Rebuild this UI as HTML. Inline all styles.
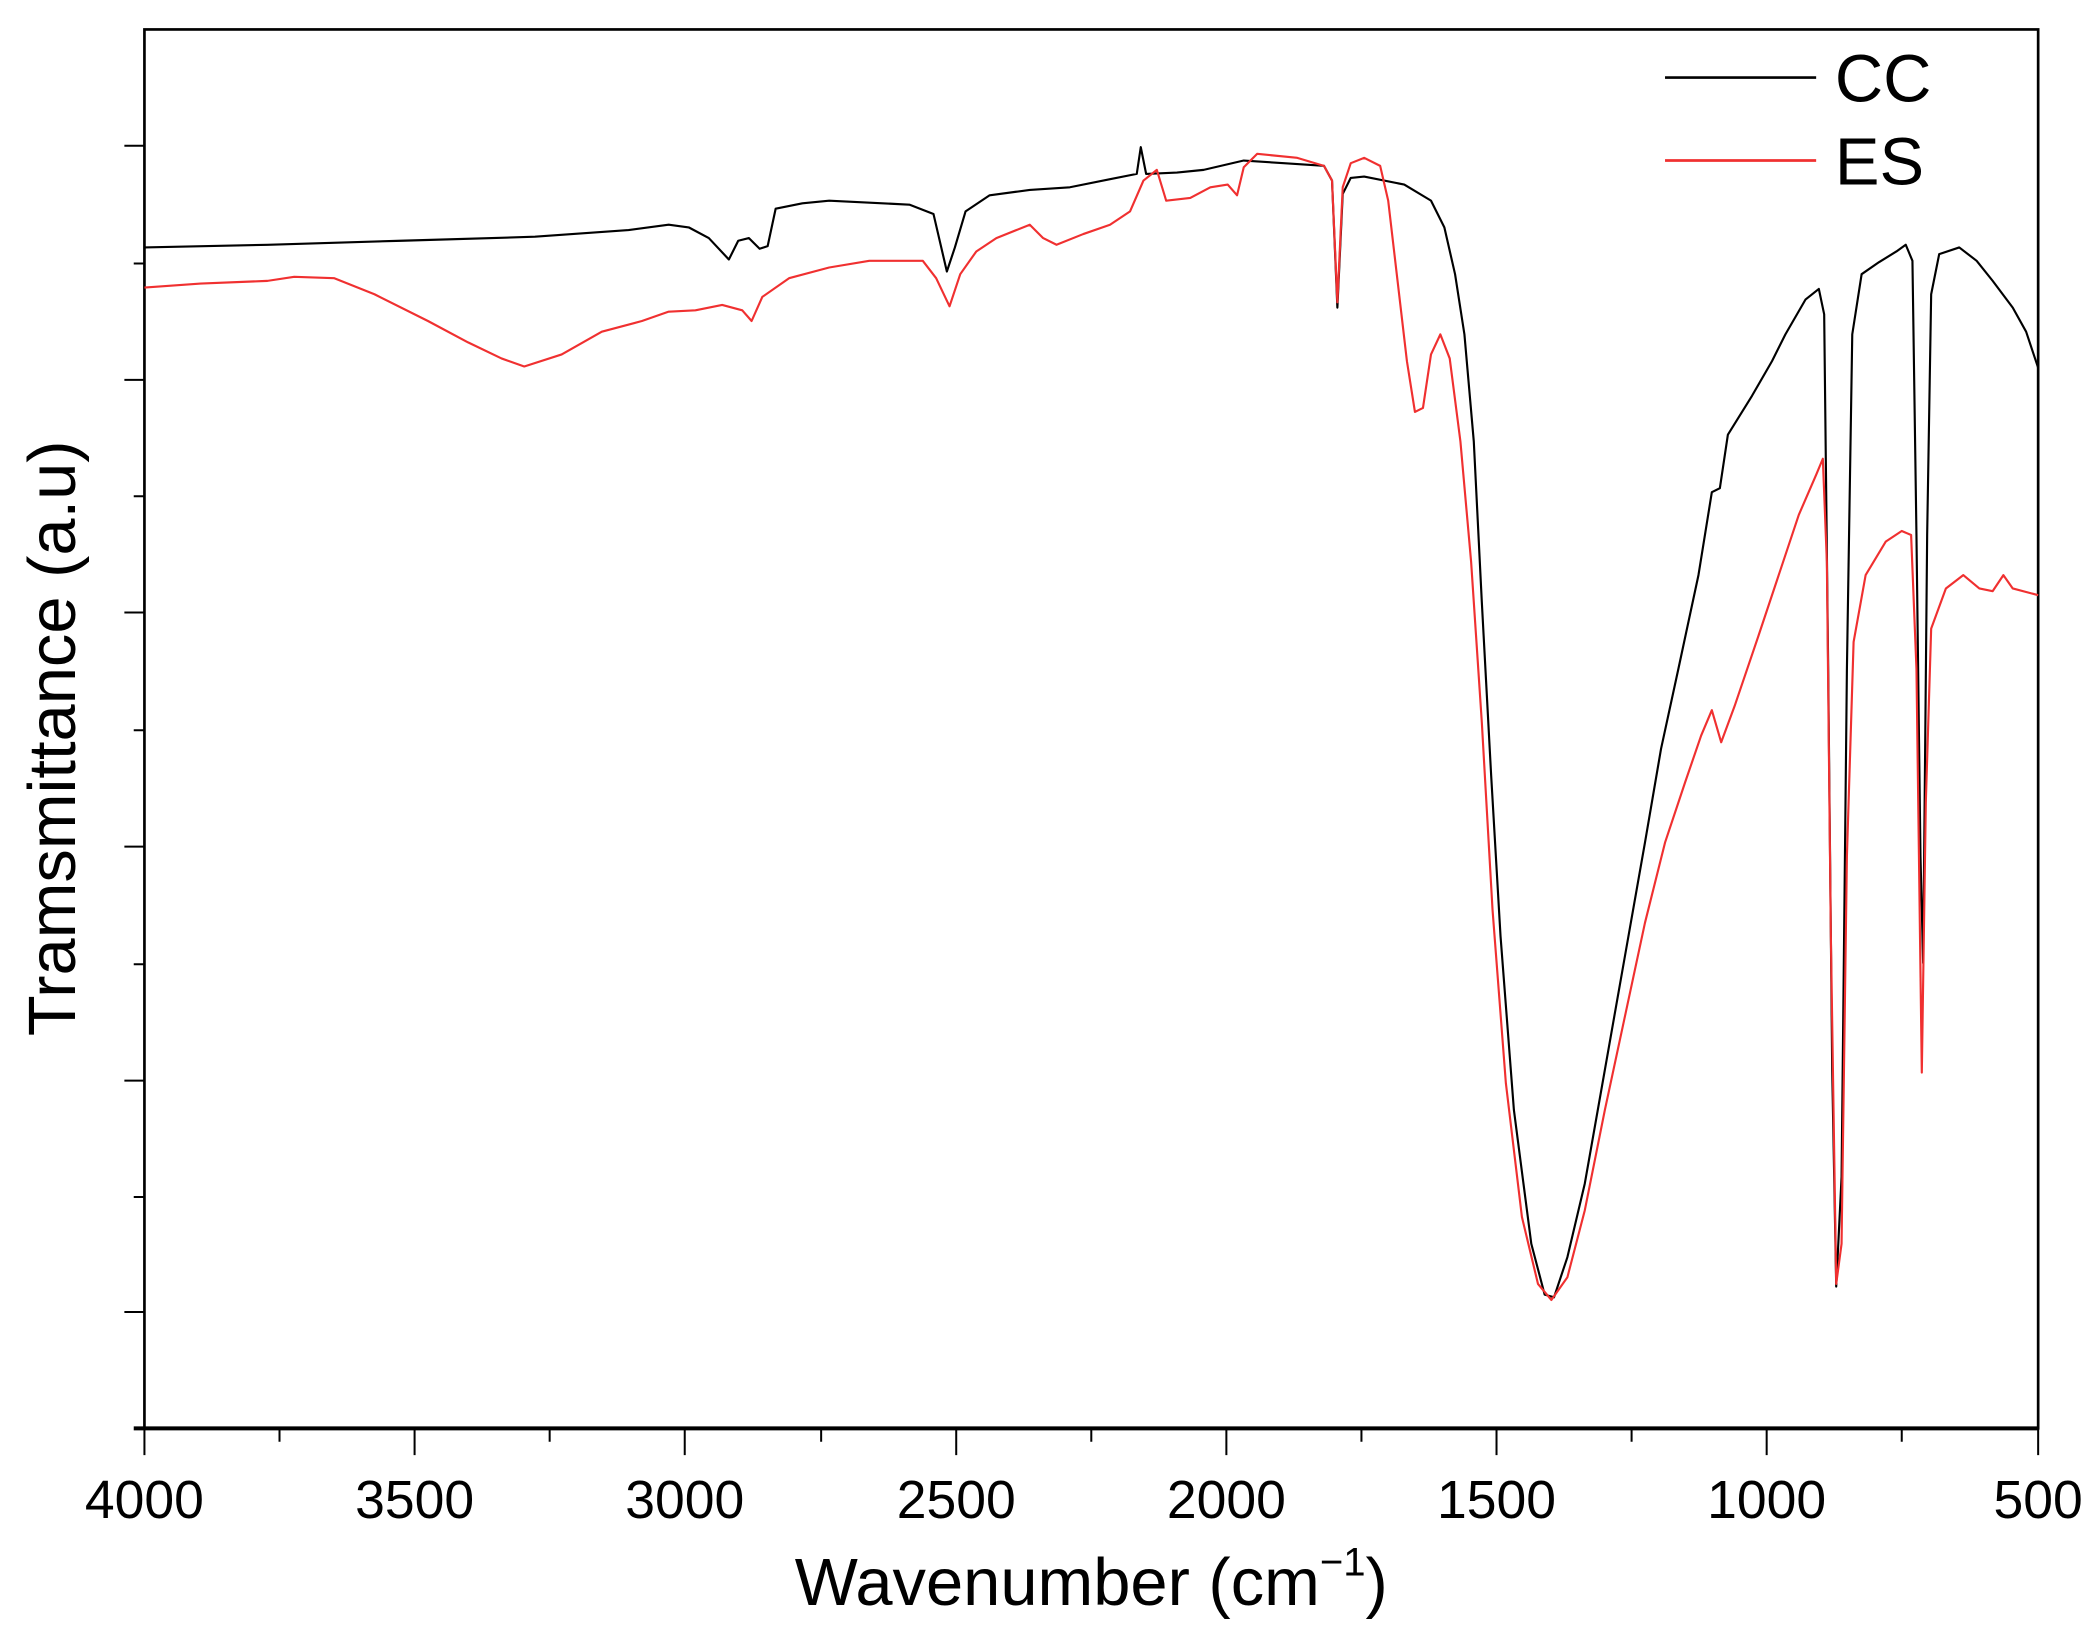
<!DOCTYPE html>
<html><head><style>html,body{margin:0;padding:0;background:#fff;}svg{display:block;}</style></head>
<body>
<svg width="2097" height="1637" viewBox="0 0 1568 1224" xmlns="http://www.w3.org/2000/svg" font-family="Liberation Sans, Arial, sans-serif">
<rect x="0" y="0" width="1568" height="1224" fill="#fff"/>
<g stroke="#000" stroke-width="1.5" fill="none">
<path d="M108,1068 v20 M209,1068 v10 M310,1068 v20 M411,1068 v10 M512,1068 v20 M614,1068 v10 M715,1068 v20 M816,1068 v10 M917,1068 v20 M1018,1068 v10 M1119,1068 v20 M1220,1068 v10 M1321,1068 v20 M1422,1068 v10 M1524,1068 v20"/>
<path d="M108,109 h-15 M108,197 h-8 M108,284 h-15 M108,371 h-8 M108,458 h-15 M108,546 h-8 M108,633 h-15 M108,721 h-8 M108,808 h-15 M108,895 h-8 M108,981 h-15"/>
</g>
<rect x="108" y="22" width="1416" height="1046" fill="none" stroke="#000" stroke-width="2"/>
<line x1="100" y1="1068" x2="1524" y2="1068" stroke="#000" stroke-width="3"/>
<g font-size="40" text-anchor="middle" fill="#000">
<text x="108" y="1135">4000</text><text x="310" y="1135">3500</text><text x="512" y="1135">3000</text><text x="715" y="1135">2500</text><text x="917" y="1135">2000</text><text x="1119" y="1135">1500</text><text x="1321" y="1135">1000</text><text x="1524" y="1135">500</text>
</g>
<text x="816" y="1200" font-size="50" text-anchor="middle">Wavenumber (cm<tspan font-size="30" dy="-22">−1</tspan><tspan dy="22">)</tspan></text>
<text transform="translate(56,552) rotate(-90)" font-size="50" text-anchor="middle">Tramsmittance (a.u)</text>
<line x1="1245" y1="58" x2="1358" y2="58" stroke="#000" stroke-width="2"/>
<line x1="1245" y1="120" x2="1358" y2="120" stroke="#f03030" stroke-width="2"/>
<text x="1372" y="76" font-size="50">CC</text>
<text x="1372" y="138" font-size="50">ES</text>
<path fill="none" stroke="#000" stroke-width="1.6" stroke-linejoin="round" d="M108,185 L200,183 L300,180 L400,177 L470,172 L500,168 L515,170 L530,178 L545,194 L552,180 L560,178 L568,186 L574,184 L580,156 L600,152 L620,150 L680,153 L698,160 L708,203 L714,185 L722,158 L740,146 L770,142 L800,140 L830,134 L850,130 L853,110 L857,130 L880,129 L900,127 L930,120 L960,122 L990,124 L996,135 L1000,230 L1004,145 L1010,133 L1020,132 L1050,138 L1070,150 L1080,170 L1088,205 L1095,250 L1102,330 L1108,450 L1115,580 L1122,700 L1132,830 L1145,930 L1155,968 L1162,970 L1172,940 L1185,885 L1200,800 L1215,715 L1230,630 L1242,560 L1255,500 L1270,430 L1280,368 L1286,365 L1292,325 L1310,296 L1325,270 L1335,250 L1350,224 L1360,216 L1364,235 L1367,500 L1370,800 L1373,962 L1377,880 L1381,500 L1385,250 L1392,205 L1405,196 L1418,188 L1425,183 L1430,195 L1433,400 L1436,640 L1438,720 L1441,400 L1444,220 L1450,190 L1465,185 L1478,195 L1490,210 L1505,230 L1515,248 L1524,275"/>
<path fill="none" stroke="#f03030" stroke-width="1.6" stroke-linejoin="round" d="M108,215 L150,212 L200,210 L220,207 L250,208 L280,220 L320,240 L350,256 L375,268 L392,274 L420,265 L450,248 L480,240 L500,233 L520,232 L540,228 L555,232 L562,240 L570,222 L590,208 L620,200 L650,195 L690,195 L700,208 L710,229 L718,205 L730,188 L745,178 L770,168 L780,178 L790,183 L810,175 L830,168 L845,158 L855,135 L865,127 L872,150 L890,148 L905,140 L918,138 L925,146 L930,125 L940,115 L970,118 L990,124 L996,135 L1000,226 L1004,140 L1010,122 L1020,118 L1032,124 L1038,150 L1045,210 L1052,270 L1058,308 L1064,305 L1070,265 L1077,250 L1084,268 L1092,330 L1100,420 L1108,540 L1116,680 L1126,810 L1138,910 L1150,960 L1160,972 L1172,955 L1185,905 L1200,830 L1215,760 L1230,690 L1245,630 L1260,585 L1272,550 L1280,531 L1287,555 L1297,528 L1315,475 L1330,430 L1345,385 L1358,355 L1363,343 L1366,420 L1369,700 L1373,960 L1377,930 L1381,640 L1386,480 L1395,430 L1410,405 L1422,397 L1429,400 L1433,500 L1437,802 L1440,600 L1444,470 L1455,440 L1468,430 L1480,440 L1490,442 L1498,430 L1505,440 L1524,445"/>
</svg>
</body></html>
